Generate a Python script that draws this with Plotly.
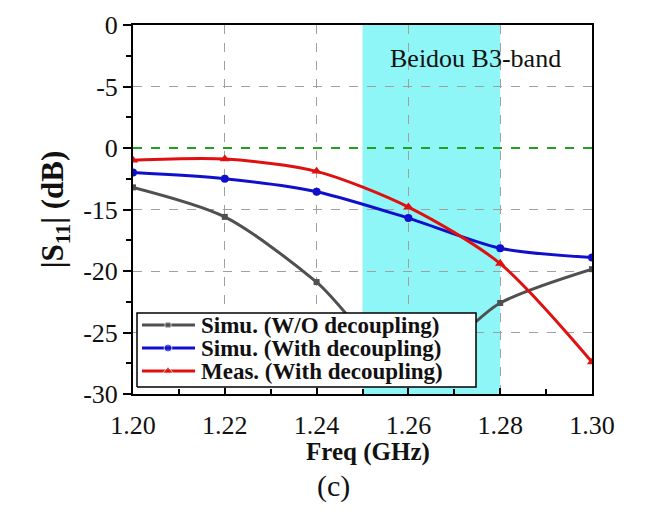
import plotly.graph_objects as go

freq = [1.20, 1.22, 1.24, 1.26, 1.28, 1.30]
simu_wo = [-13.2, -15.6, -20.9, -28.0, -22.6, -19.85]
simu_with = [-12.0, -12.5, -13.55, -15.7, -18.15, -18.9]
meas_with = [-11.0, -10.9, -11.9, -14.8, -19.4, -27.4]

names = ["Simu. (W/O decoupling)", "Simu. (With decoupling)", "Meas. (With decoupling)"]
colors = ["#505050", "#1010CC", "#E01010"]
symbols = ["square", "circle", "triangle-up"]
msizes = [6, 8, 9]

band = [1.25, 1.28]
ref_level = -10
band_label = "Beidou B3-band"
panel_label = "(c)"
x_title = "Freq (GHz)"

y_tickvals = [0, -5, -10, -15, -20, -25, -30]
y_ticktext = ["0", "-5", "0", "-15", "-20", "-25", "-30"]
x_tickvals = [1.20, 1.22, 1.24, 1.26, 1.28, 1.30]
x_ticktext = ["1.20", "1.22", "1.24", "1.26", "1.28", "1.30"]

serif = "Liberation Serif, Times New Roman, serif"

# page offset of the figure inside the html page (body margin)
OFF = 8
# desired plot-area frame in page pixels
L, R, T, B = 133, 592, 25, 394
def fx(px):
    return (px - L) / (R - L)
def fy(py):
    return (B - py) / (B - T)

fig = go.Figure()
for ys, nm, c, s, ms in zip([simu_wo, simu_with, meas_with], names, colors, symbols, msizes):
    fig.add_trace(go.Scatter(
        x=freq, y=ys, name=nm, mode="lines+markers", showlegend=False,
        line=dict(color=c, width=3, shape="spline", smoothing=0.8),
        marker=dict(color=c, symbol=s, size=ms),
    ))

# ---- legend (drawn on an overlay axis so it covers the curves) ----
lx0, lx1, ly0, ly1 = fx(137), fx(476), fy(387), fy(313)
fig.add_trace(go.Scatter(
    x=[lx0, lx1, lx1, lx0, lx0], y=[ly0, ly0, ly1, ly1, ly0],
    xaxis="x2", yaxis="y2", mode="lines", fill="toself", fillcolor="white",
    line=dict(color="black", width=1.5), showlegend=False, hoverinfo="skip",
))
row_py = [325, 348, 371]
for nm, c, s, ms, py in zip(names, colors, symbols, msizes, row_py):
    fig.add_trace(go.Scatter(
        x=[fx(142), fx(168), fx(195)], y=[fy(py)] * 3,
        xaxis="x2", yaxis="y2", mode="lines+markers", showlegend=False, hoverinfo="skip",
        line=dict(color=c, width=3),
        marker=dict(color=c, symbol=s, size=[0, ms, 0]),
    ))
    fig.add_annotation(x=fx(199), y=fy(py), xref="paper", yref="paper", xanchor="left",
                       yanchor="middle", text="<b>" + nm + "</b>", showarrow=False,
                       font=dict(family=serif, size=23, color="#111111"))

# Beidou band
fig.add_shape(type="rect", xref="x", yref="paper", x0=band[0], x1=band[1], y0=0, y1=1,
              fillcolor="#8EF6F6", line=dict(width=0), layer="below")
# -10 dB reference
fig.add_shape(type="line", xref="paper", yref="y", x0=0, x1=1, y0=ref_level, y1=ref_level,
              line=dict(color="#22A022", width=2, dash="dash"), layer="above")

fig.add_annotation(x=fx(475), y=fy(58), xref="paper", yref="paper",
                   xanchor="center", yanchor="middle",
                   text=band_label, showarrow=False,
                   font=dict(family=serif, size=26, color="#111111"))
fig.add_annotation(x=fx(368), y=fy(452), xref="paper", yref="paper",
                   xanchor="center", yanchor="middle",
                   text="<b>" + x_title + "</b>", showarrow=False,
                   font=dict(family=serif, size=25, color="#111111"))
fig.add_annotation(x=fx(333), y=fy(486), xref="paper", yref="paper",
                   xanchor="center", yanchor="middle",
                   text=panel_label, showarrow=False,
                   font=dict(family=serif, size=30, color="#111111"))

axis_common = dict(
    showline=True, linecolor="black", linewidth=2, mirror=True,
    showgrid=True, gridcolor="#A0A0A0", griddash="dash", gridwidth=1,
    tickcolor="black", tickwidth=2,
    tickfont=dict(family=serif, size=26, color="#111111"),
    zeroline=False,
)

fig.update_layout(
    width=650, height=519,
    margin=dict(l=L - OFF, r=650 - (R - OFF), t=T - OFF, b=519 - (B - OFF), autoexpand=False),
    plot_bgcolor="white", paper_bgcolor="white",
    showlegend=False,
    xaxis=dict(range=[1.20, 1.30], tickvals=x_tickvals, ticktext=x_ticktext,
               ticks="inside", ticklen=6, ticklabelstandoff=7,
               minor=dict(dtick=0.01, ticks="inside", ticklen=5, tickcolor="black", tickwidth=1.5),
               **axis_common),
    yaxis=dict(range=[-30, 0], tickvals=y_tickvals, ticktext=y_ticktext,
               ticks="outside", ticklen=8,
               minor=dict(dtick=2.5, ticks="outside", ticklen=5, tickcolor="black", tickwidth=1.5),
               title=dict(text="<b>|S<sub>11</sub>| (dB)</b>", font=dict(family=serif, size=31, color="#111111"), standoff=10),
               **axis_common),
    xaxis2=dict(overlaying="x", range=[0, 1], visible=False, fixedrange=True),
    yaxis2=dict(overlaying="y", range=[0, 1], visible=False, fixedrange=True),
)

fig.write_html("out.html")
